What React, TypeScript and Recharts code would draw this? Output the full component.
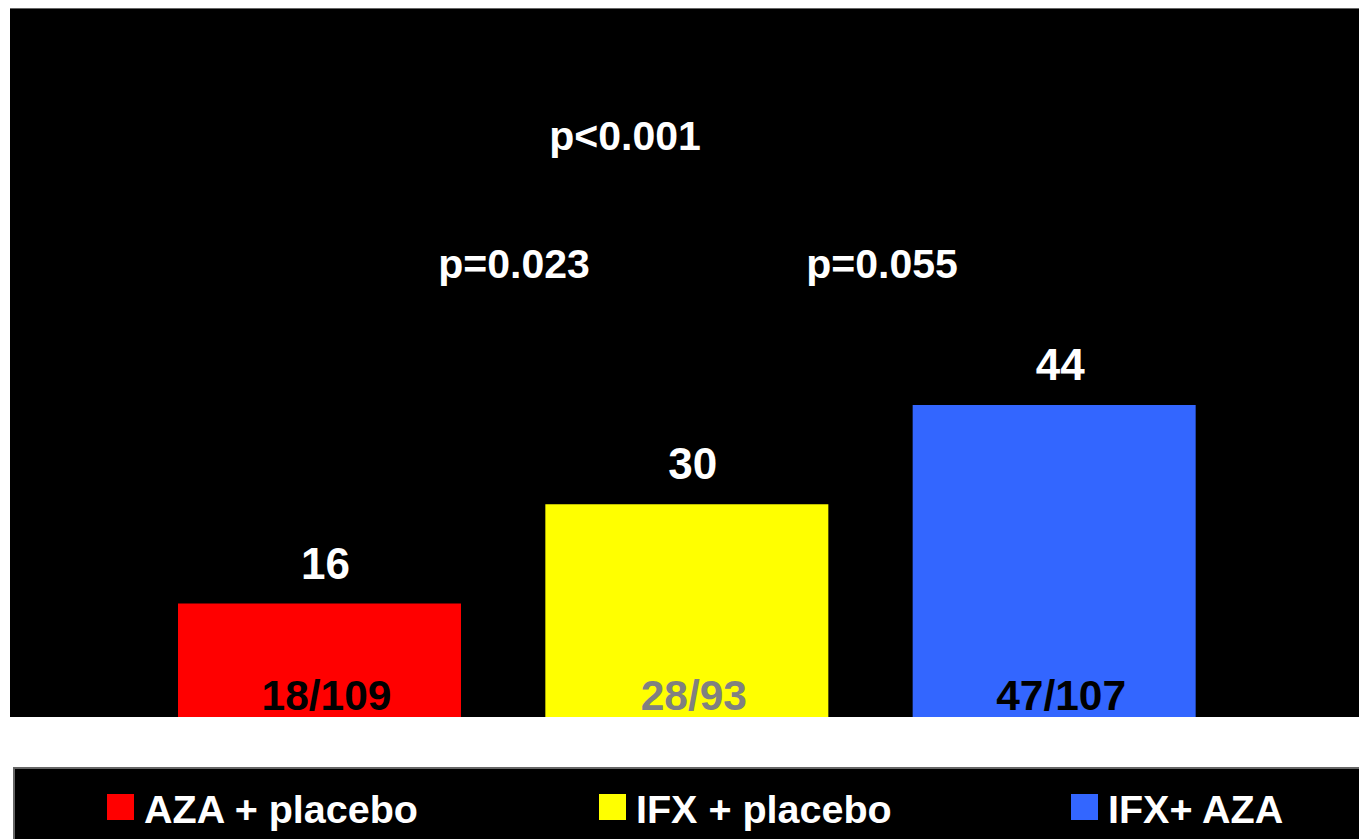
import { Bar, BarChart, Cell, Customized, LabelList, XAxis, YAxis } from 'recharts'

// response rates (%) per treatment arm
const groups = ['AZA + placebo', 'IFX + placebo', 'IFX+ AZA']
const rates = [16, 30, 44]
const counts = ['18/109', '28/93', '47/107']
const barColors = ['#ff0000', '#ffff00', '#3366ff']
const countColors = ['#000000', '#808080', '#000000']
const pValues = ['p<0.001', 'p=0.023', 'p=0.055']

// where each p-value sits inside the chart svg
const pSpots = [
    { x: 615, y: 142 },
    { x: 504, y: 270 },
    { x: 872, y: 270 },
]
const legendX = [92, 584, 1056]

const FONT = '"Liberation Sans", Arial, sans-serif'

const data = groups.map((name, i) => ({ name, rate: rates[i], count: counts[i] }))

function CountLabel(props: any) {
    const { x, y, width, height, index, value } = props
    return (
        <text
            x={x + width / 2 + 7}
            y={y + height - 7}
            textAnchor="middle"
            fill={countColors[index]}
            fontFamily={FONT}
            fontWeight="bold"
            fontSize={42.5}
        >
            {value}
        </text>
    )
}

function RateLabel(props: any) {
    const { x, y, width, value } = props
    return (
        <text
            x={x + width / 2 + 6}
            y={y - 25}
            textAnchor="middle"
            fill="#ffffff"
            fontFamily={FONT}
            fontWeight="bold"
            fontSize={44}
        >
            {value}
        </text>
    )
}

function PValues() {
    return (
        <g>
            {pValues.map((p, i) => (
                <text
                    key={p}
                    x={pSpots[i].x}
                    y={pSpots[i].y}
                    textAnchor="middle"
                    fill="#ffffff"
                    fontFamily={FONT}
                    fontWeight="bold"
                    fontSize={41}
                >
                    {p}
                </text>
            ))}
        </g>
    )
}

export default function App() {
    return (
        <div>
            <div
                style={{
                    position: 'fixed',
                    left: 10,
                    top: 8,
                    width: 1349,
                    height: 709,
                    background: '#000',
                    boxShadow: 'inset 0 1px 0 #666',
                }}
            >
                <BarChart width={1349} height={709} data={data} margin={{ top: 0, right: 121, bottom: 0, left: 126 }}>
                    <XAxis dataKey="name" hide />
                    <YAxis hide domain={[0, 100]} />
                    <Bar dataKey="rate" barSize={283} isAnimationActive={false}>
                        {data.map((d, i) => (
                            <Cell key={d.name} fill={barColors[i]} />
                        ))}
                        <LabelList dataKey="rate" content={RateLabel} />
                        <LabelList dataKey="count" content={CountLabel} />
                    </Bar>
                    <Customized component={PValues} />
                </BarChart>
            </div>
            <div
                style={{
                    position: 'fixed',
                    left: 13,
                    top: 767,
                    width: 1346,
                    height: 72,
                    boxSizing: 'border-box',
                    background: '#000',
                    borderTop: '2px solid #666',
                    borderLeft: '2px solid #666',
                }}
            >
                <svg width={1344} height={70} style={{ display: 'block' }}>
                    {groups.map((g, i) => (
                        <g key={g}>
                            <rect x={legendX[i]} y={25} width={27} height={26} fill={barColors[i]} />
                            <text
                                x={legendX[i] + 37}
                                y={54}
                                fill="#ffffff"
                                fontFamily={FONT}
                                fontWeight="bold"
                                fontSize={39.5}
                            >
                                {g}
                            </text>
                        </g>
                    ))}
                </svg>
            </div>
        </div>
    )
}
